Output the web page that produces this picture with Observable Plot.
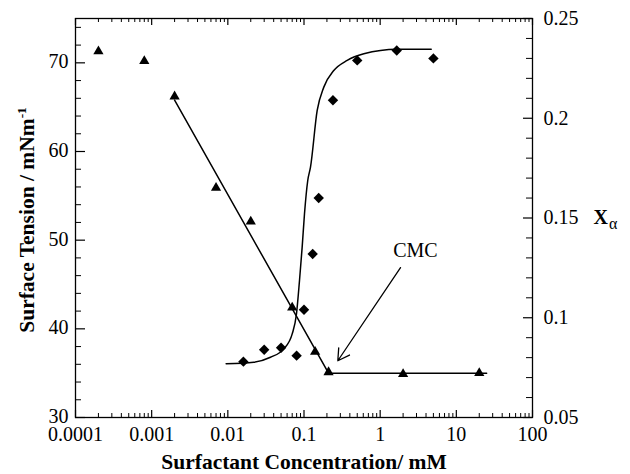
<!DOCTYPE html>
<html><head><meta charset="utf-8">
<script src="https://cdn.jsdelivr.net/npm/d3@7"></script>
<script src="https://cdn.jsdelivr.net/npm/@observablehq/plot@0.6"></script>
<style>body{margin:0;background:#fff}</style>
</head><body><div id="chart"></div>
<script>
// Surface tension (left axis, mN/m) — triangles
const tensionConc = [0.0002, 0.0008, 0.002, 0.007, 0.02, 0.07, 0.14, 0.21, 2, 20];
const tensionValue = [71.3, 70.2, 66.2, 55.9, 52.1, 42.4, 37.4, 35.1, 34.9, 35.0];
// Straight-line fit through tension data
const fitLineConc = [0.002, 0.21, 25];
const fitLineValue = [65.8, 35.0, 35.0];
// X_alpha (right axis) — diamonds
const xalphaConc = [0.016, 0.03, 0.05, 0.08, 0.1, 0.13, 0.156, 0.24, 0.5, 1.65, 5];
const xalphaValue = [0.078, 0.084, 0.085, 0.081, 0.104, 0.132, 0.160, 0.209, 0.229, 0.234, 0.230];
// X_alpha fitted curve
const xalphaCurveConc = [0.0095, 0.0219, 0.0363, 0.0543, 0.070, 0.0797, 0.0873, 0.0946, 0.1015, 0.112, 0.1217, 0.149, 0.182, 0.246, 0.369, 0.61, 1.67, 4.68];
const xalphaCurveValue = [0.0769, 0.0777, 0.0802, 0.0844, 0.0919, 0.102, 0.1187, 0.1354, 0.1521, 0.1688, 0.1755, 0.2039, 0.2156, 0.2239, 0.229, 0.2323, 0.2346, 0.2346];
// Ticks
const xTickMajor = [0.0001, 0.001, 0.01, 0.1, 1, 10, 100];
const xTickLabels = ["0.0001", "0.001", "0.01", "0.1", "1", "10", "100"];
const leftTickMajor = [30, 40, 50, 60, 70];
const leftTickLabels = ["30", "40", "50", "60", "70"];
const rightTickMajor = [0.05, 0.1, 0.15, 0.2, 0.25];
const rightTickLabels = ["0.05", "0.1", "0.15", "0.2", "0.25"];
// Annotation
const cmcLabel = [{x: 2.9, y: 48.8, text: "CMC"}];
const cmcArrow = [{x1: 1.85, y1: 46.9, x2: 0.278, y2: 36.4}];

const xMinor = [];
for (let e = -4; e < 2; e++) for (let k = 2; k <= 9; k++) xMinor.push(k * Math.pow(10, e));
const leftMinor = [];
for (let v = 32; v < 75; v += 2) if (v % 10 !== 0) leftMinor.push(v);
const rightMinor = [];
for (let i = 6; i < 25; i++) if (i % 5 !== 0) rightMinor.push(i / 100);

const toLeft = v => 30 + (v - 0.05) / 0.2 * 45;

const tension = tensionConc.map((c, i) => ({c, v: tensionValue[i]}));
const fitLine = fitLineConc.map((c, i) => ({c, v: fitLineValue[i]}));
const xalpha = xalphaConc.map((c, i) => ({c, v: toLeft(xalphaValue[i])}));
const xalphaCurve = xalphaCurveConc.map((c, i) => ({c, v: toLeft(xalphaCurveValue[i])}));

const W = 630, H = 474, mL = 75, mR = 98, mT = 18, mB = 57;
const fw = W - mL - mR, fh = H - mT - mB;
const serif = "'Liberation Serif', 'Times New Roman', Times, serif";

const svg = Plot.plot({
  width: W, height: H,
  marginLeft: mL, marginRight: mR, marginTop: mT, marginBottom: mB,
  style: {fontFamily: serif, background: "white", color: "black"},
  x: {type: "log", domain: [0.0001, 100], axis: null},
  y: {domain: [30, 75], axis: null},
  marks: [
    Plot.frame({stroke: "black", strokeWidth: 1.3}),
    // x ticks (inward, bottom and top)
    Plot.tickX(xMinor, {x: d => d, insetTop: fh - 4, stroke: "black"}),
    Plot.tickX(xMinor, {x: d => d, insetBottom: fh - 4, stroke: "black"}),
    Plot.tickX(xTickMajor, {x: d => d, insetTop: fh - 7, stroke: "black", strokeWidth: 1.2}),
    Plot.tickX(xTickMajor, {x: d => d, insetBottom: fh - 7, stroke: "black", strokeWidth: 1.2}),
    // left ticks
    Plot.tickY(leftMinor, {y: d => d, insetRight: fw - 6, stroke: "black"}),
    Plot.tickY(leftTickMajor, {y: d => d, insetRight: fw - 10, stroke: "black", strokeWidth: 1.2}),
    // right ticks
    Plot.tickY(rightMinor, {y: d => toLeft(d), insetLeft: fw - 6, stroke: "black"}),
    Plot.tickY(rightTickMajor, {y: d => toLeft(d), insetLeft: fw - 9, stroke: "black", strokeWidth: 1.2}),
    // tick labels
    Plot.text(xTickMajor, {x: d => d, text: (d, i) => xTickLabels[i], frameAnchor: "bottom", lineAnchor: "bottom", dy: 23, fontSize: 20, fill: "black"}),
    Plot.text(leftTickMajor, {y: d => d, text: (d, i) => leftTickLabels[i], frameAnchor: "left", textAnchor: "end", dx: -7, dy: -1, fontSize: 20, fill: "black"}),
    Plot.text(rightTickMajor, {y: d => toLeft(d), text: (d, i) => rightTickLabels[i], frameAnchor: "right", textAnchor: "start", dx: 11, fontSize: 20, fill: "black"}),
    // axis titles
    Plot.text(["Surfactant Concentration/ mM"], {frameAnchor: "bottom", lineAnchor: "bottom", dy: 51, fontSize: 21.5, fontWeight: "bold", fill: "black"}),
    Plot.text(["Surface Tension / mNm"], {frameAnchor: "left", textAnchor: "middle", lineAnchor: "bottom", rotate: -90, dx: -42, dy: 2, fontSize: 21.5, fontWeight: "bold", fill: "black"}),
    Plot.text(["X"], {y: toLeft(0.15), frameAnchor: "right", textAnchor: "start", lineAnchor: "bottom", dx: 61, dy: 6, fontSize: 20, fontWeight: "bold", fill: "black"}),
    // fits
    Plot.line(fitLine, {x: "c", y: "v", stroke: "black", strokeWidth: 1.5}),
    Plot.line(xalphaCurve, {x: "c", y: "v", stroke: "black", strokeWidth: 1.5, curve: "monotone-x"}),
    // data
    Plot.dot(tension, {x: "c", y: "v", symbol: "triangle", r: 3.8, fill: "black", stroke: "none"}),
    Plot.dot(xalpha, {x: "c", y: "v", symbol: "diamond2", r: 4.7, fill: "black", stroke: "none"}),
    // CMC annotation
    Plot.text(cmcLabel, {x: "x", y: "y", text: "text", fontSize: 20, fill: "black"}),
    Plot.arrow(cmcArrow, {x1: "x1", y1: "y1", x2: "x2", y2: "y2", stroke: "black", strokeWidth: 1.3, headLength: 15, headAngle: 60})
  ]
});

svg.querySelectorAll("text").forEach(t => {
  if (t.textContent === "Surface Tension / mNm") {
    const ts = document.createElementNS("http://www.w3.org/2000/svg", "tspan");
    ts.setAttribute("dy", "-0.55em");
    ts.setAttribute("font-size", "0.62em");
    ts.textContent = "-1";
    t.appendChild(ts);
  } else if (t.textContent === "X") {
    const ts = document.createElementNS("http://www.w3.org/2000/svg", "tspan");
    ts.setAttribute("dy", "0.3em");
    ts.setAttribute("dx", "1");
    ts.setAttribute("font-size", "0.8em");
    ts.setAttribute("font-weight", "normal");
    ts.textContent = "α";
    t.appendChild(ts);
  }
});
document.getElementById("chart").appendChild(svg);
</script>
</body></html>
